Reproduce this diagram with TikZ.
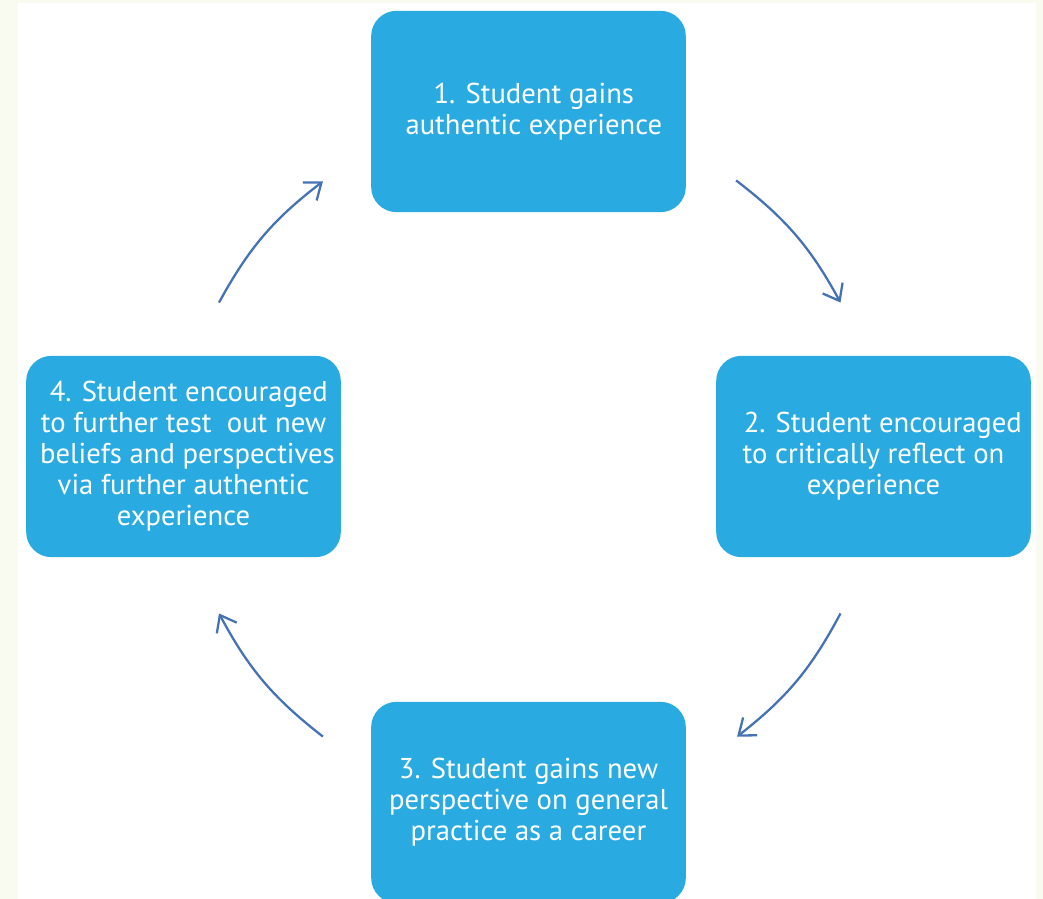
\documentclass[tikz,border=0pt]{standalone}
\usepackage{fontspec}
\setmainfont{PT Sans}
\usetikzlibrary{arrows.meta, positioning}
\definecolor{stepBlue}{RGB}{41,171,226}
\definecolor{arrowBlue}{RGB}{68,114,180}
\definecolor{paperCream}{RGB}{250,251,240}

\begin{document}
\begin{tikzpicture}[x=0.75pt, y=0.75pt,
    stepbox/.style={fill=stepBlue, rounded corners=19pt, minimum width=236pt,
        minimum height=151pt, align=center, text=white, font=\fontsize{21.5}{23.3}\selectfont},
    cyclearrow/.style={-{Straight Barb[length=11pt, width=17pt]}, arrowBlue,
        line width=1.7pt, bend left=12}]
    \useasboundingbox (0,0) rectangle (1043,-899);
    % background
    \fill[paperCream] (0,0) rectangle (1043,-899);
    \fill[white] (18,-3) rectangle (1036,-899);

    % steps
    \node[stepbox] (gain) at (528.5,-111.5) {\hspace*{8pt}1. Student gains\\\hspace*{8pt}authentic experience};
    \node[stepbox] (reflect) at (873.5,-456.5) {\hspace*{14pt}2. Student encouraged\\to critically reflect on\\experience};
    \node[stepbox] (perspective) at (528.5,-802.5) {3. Student gains new\\perspective on general\\practice as a career};
    \node[stepbox] (test) at (183.5,-456.5) {\hspace*{8pt}4. Student encouraged\\to further test~ out new\\\hspace*{6pt}beliefs and perspectives\\via further authentic\\experience};

    % arrows between steps
    \draw[cyclearrow] ([shift={(50,32)}]gain.south east) to ([shift={(-33,53)}]reflect.north);
    \draw[cyclearrow] ([shift={(-33,-56)}]reflect.south) to ([shift={(51,-35)}]perspective.north east);
    \draw[cyclearrow] ([shift={(-48,-35)}]perspective.north west) to ([shift={(35.5,-56)}]test.south);
    \draw[cyclearrow] ([shift={(35.5,53)}]test.north) to ([shift={(-48,31)}]gain.south west);
\end{tikzpicture}
\end{document}
